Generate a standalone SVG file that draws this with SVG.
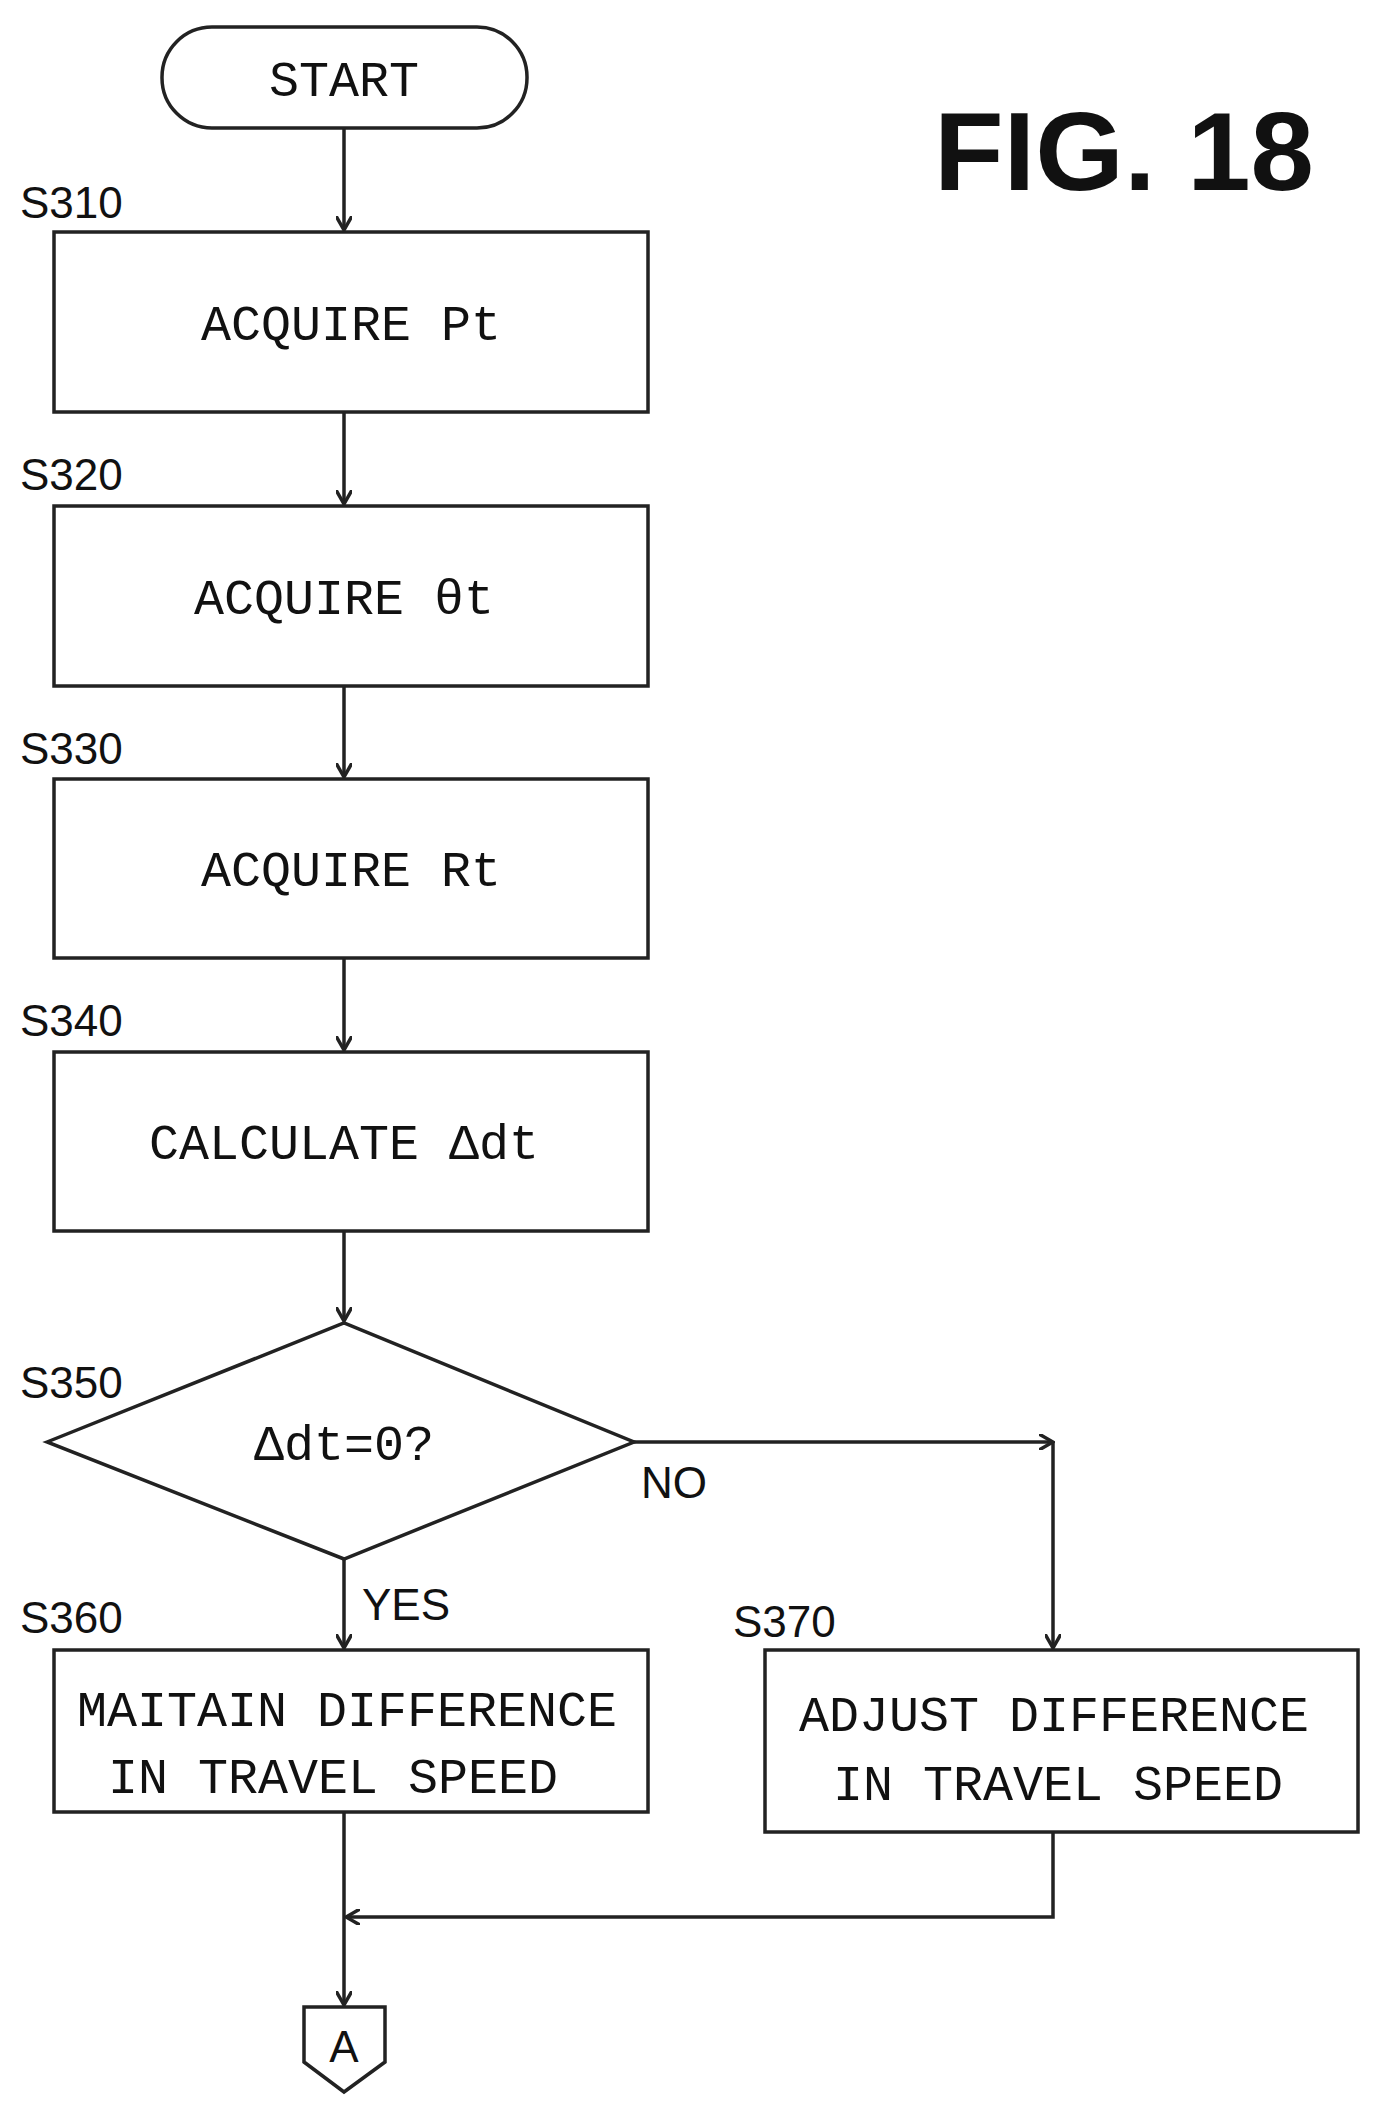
<svg xmlns="http://www.w3.org/2000/svg" width="1382" height="2119" viewBox="0 0 1382 2119">
<style>
.s{fill:#fff;stroke:#222;stroke-width:3.5}
.c{fill:none;stroke:#222;stroke-width:3.5}
.t{font-family:"Liberation Mono",monospace;font-size:50px;fill:#111;text-anchor:middle}
.l{font-family:"Liberation Sans",sans-serif;font-size:44px;fill:#111}
</style>
<defs><marker id="a" markerWidth="16" markerHeight="16" refX="14" refY="8" orient="auto" markerUnits="userSpaceOnUse"><path d="M0,0 L14,8 L0,16" fill="none" stroke="#222" stroke-width="3.5"/></marker></defs>
<text x="1314" y="190" font-family="Liberation Sans,sans-serif" font-weight="bold" font-size="112" text-anchor="end" fill="#111" textLength="380" lengthAdjust="spacingAndGlyphs">FIG. 18</text>
<g id="connectors">
<line class="c" x1="344" y1="128" x2="344" y2="230" marker-end="url(#a)"/>
<line class="c" x1="344" y1="412" x2="344" y2="504" marker-end="url(#a)"/>
<line class="c" x1="344" y1="686" x2="344" y2="777" marker-end="url(#a)"/>
<line class="c" x1="344" y1="958" x2="344" y2="1050" marker-end="url(#a)"/>
<line class="c" x1="344" y1="1231" x2="344" y2="1321" marker-end="url(#a)"/>
<line class="c" x1="344" y1="1559" x2="344" y2="1648" marker-end="url(#a)"/>
<line class="c" x1="634" y1="1442" x2="1053" y2="1442" marker-end="url(#a)"/>
<line class="c" x1="1053" y1="1442" x2="1053" y2="1648" marker-end="url(#a)"/>
<polyline class="c" points="1053,1832 1053,1917 346,1917" marker-end="url(#a)"/>
<line class="c" x1="344" y1="1812" x2="344" y2="2005" marker-end="url(#a)"/>
</g>
<g id="start"><rect class="s" x="162" y="27" width="365" height="101" rx="50"/><text class="t" x="344" y="96">START</text></g>
<g id="s310"><text class="l" x="20" y="218">S310</text><rect class="s" x="54" y="232" width="594" height="180"/><text class="t" x="351" y="340">ACQUIRE Pt</text></g>
<g id="s320"><text class="l" x="20" y="490">S320</text><rect class="s" x="54" y="506" width="594" height="180"/><text class="t" x="344" y="614">ACQUIRE θt</text></g>
<g id="s330"><text class="l" x="20" y="764">S330</text><rect class="s" x="54" y="779" width="594" height="179"/><text class="t" x="351" y="886">ACQUIRE Rt</text></g>
<g id="s340"><text class="l" x="20" y="1036">S340</text><rect class="s" x="54" y="1052" width="594" height="179"/><text class="t" x="344" y="1159">CALCULATE Δdt</text></g>
<g id="s350"><text class="l" x="20" y="1398">S350</text><polygon class="s" points="47,1442 344,1323 634,1442 344,1559"/><text class="t" x="344" y="1460">Δdt=0?</text></g>
<text class="l" x="641" y="1498">NO</text>
<text class="l" x="362" y="1620">YES</text>
<g id="s360"><text class="l" x="20" y="1633">S360</text><rect class="s" x="54" y="1650" width="594" height="162"/><text class="t" x="347" y="1726">MAITAIN DIFFERENCE</text><text class="t" x="333" y="1793">IN TRAVEL SPEED</text></g>
<g id="s370"><text class="l" x="733" y="1637">S370</text><rect class="s" x="765" y="1650" width="593" height="182"/><text class="t" x="1054" y="1731">ADJUST DIFFERENCE</text><text class="t" x="1058" y="1800">IN TRAVEL SPEED</text></g>
<g id="a-conn"><polygon class="s" points="304,2007 385,2007 385,2062 344,2092 304,2062"/><text class="l" x="344" y="2062" text-anchor="middle">A</text></g>
</svg>
